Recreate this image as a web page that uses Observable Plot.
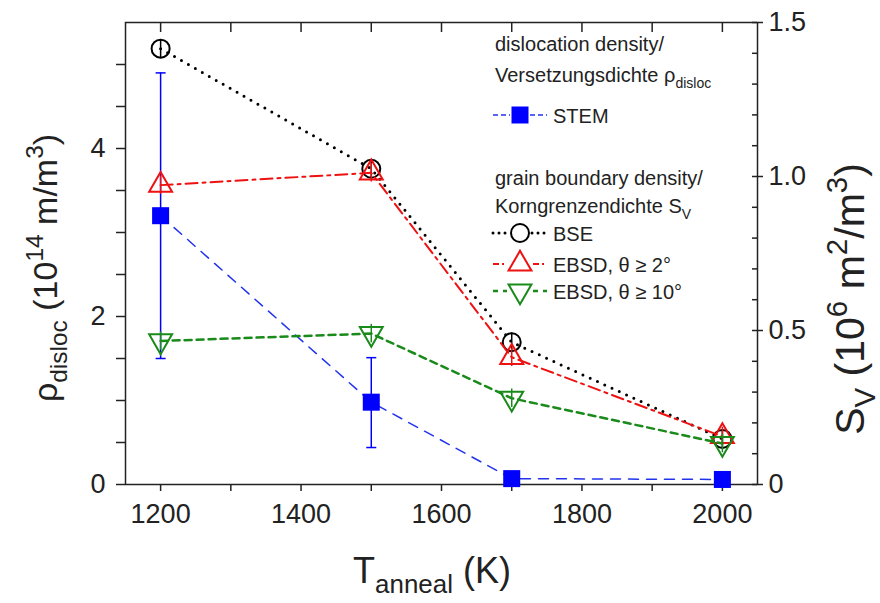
<!DOCTYPE html>
<html><head><meta charset="utf-8">
<script src="https://cdn.jsdelivr.net/npm/d3@7"></script>
<script src="https://cdn.jsdelivr.net/npm/@observablehq/plot@0.6"></script>
<style>
body{margin:0;background:#fff;}
#chart{width:880px;height:603px;}
</style>
</head><body><div id="chart"></div>
<script>
// ---- data ----
const temps = [1200, 1500, 1700, 2000];
const stemRho = [3.2, 0.98, 0.07, 0.06];
const stemLo = [1.5, 0.44, 0.07, 0.06];
const stemHi = [4.9, 1.51, 0.07, 0.06];
const bseSv = [1.415, 1.025, 0.462, 0.148];
const ebsd2Sv = [0.972, 1.012, 0.413, 0.156];
const ebsd10Sv = [0.466, 0.49, 0.28, 0.133];
const svErr = [0.03, 0.03, 0.03, 0.03];
const xMajorTicks = [1200, 1400, 1600, 1800, 2000];
const xAllTicks = [1200, 1300, 1400, 1500, 1600, 1700, 1800, 1900, 2000];
const rhoTicks = [0, 0.5, 1, 1.5, 2, 2.5, 3, 3.5, 4, 4.5, 5];
const rhoLabeled = [0, 2, 4];
const svMajor = [0, 0.5, 1.0, 1.5];
const svMinor = [0.1, 0.2, 0.3, 0.4, 0.6, 0.7, 0.8, 0.9, 1.1, 1.2, 1.3, 1.4];

const rhoMax = 5.5, svMax = 1.5;
const toRho = s => s * rhoMax / svMax;

const stem = temps.map((t, i) => ({t, v: stemRho[i], lo: stemLo[i], hi: stemHi[i]}));
const mk = arr => temps.map((t, i) => ({t, v: toRho(arr[i]), lo: toRho(arr[i] - svErr[i]), hi: toRho(arr[i] + svErr[i])}));
const bse = mk(bseSv), e2 = mk(ebsd2Sv), e10 = mk(ebsd10Sv);

const BLUE = "#0000ff", RED = "#ee1111", GREEN = "#1a8a1a", INK = "#222";
const downTri = {draw(ctx, size) {
  const y = -Math.sqrt(size / (3 * Math.sqrt(3)));
  ctx.moveTo(0, -y * 2); ctx.lineTo(-Math.sqrt(3) * y, y); ctx.lineTo(Math.sqrt(3) * y, y); ctx.closePath();
}};
const cap = {draw(ctx, size) { const w = Math.sqrt(size / Math.PI); ctx.moveTo(-w, 0); ctx.lineTo(w, 0); }};

const W = 880, H = 603, mL = 125, mR = 123, mT = 22, mB = 119;
const innerW = W - mL - mR, innerH = H - mT - mB;

const svg = Plot.plot({
  width: W, height: H,
  marginLeft: mL, marginRight: mR, marginTop: mT, marginBottom: mB,
  style: {fontFamily: "'Liberation Sans', Arial, sans-serif", color: INK, background: "#fff"},
  x: {domain: [1150, 2050]},
  y: {domain: [0, rhoMax]},
  marks: [
    // axes
    Plot.axisX(xAllTicks, {anchor: "bottom", tickSize: 7, tickPadding: 12, fontSize: 27, label: null,
      tickFormat: d => xMajorTicks.includes(d) ? String(d) : "", stroke: INK, strokeWidth: 1.5}),
    Plot.tickX(xAllTicks, {x: d => d, insetBottom: innerH - 10, stroke: INK, strokeWidth: 1.5}),
    Plot.axisY(rhoTicks, {anchor: "left", tickSize: 9, tickPadding: 11, fontSize: 27, label: null,
      tickFormat: d => rhoLabeled.includes(d) ? String(d) : "", stroke: INK, strokeWidth: 1.5}),
    Plot.axisY(svMajor.map(toRho), {anchor: "right", tickSize: 5, tickPadding: 6, fontSize: 27, label: null,
      tickFormat: d => { const s = Math.round(d * svMax / rhoMax * 10) / 10; return s === 0 ? "0" : s.toFixed(1); },
      stroke: INK, strokeWidth: 1.5}),
    Plot.tickY(svMajor.concat(svMinor), {y: s => toRho(s), insetLeft: innerW - 5, stroke: INK, strokeWidth: 1.5}),
    Plot.frame({stroke: INK, strokeWidth: 1.5}),
    // STEM
    Plot.line(stem, {x: "t", y: "v", stroke: "#2233ee", strokeWidth: 1.5, strokeDasharray: "10,8"}),
    Plot.ruleX(stem, {x: "t", y1: "lo", y2: "hi", stroke: BLUE, strokeWidth: 1.5}),
    Plot.dot(stem, {x: "t", y: "lo", symbol: cap, r: 5, stroke: BLUE, strokeWidth: 1.5}),
    Plot.dot(stem, {x: "t", y: "hi", symbol: cap, r: 5, stroke: BLUE, strokeWidth: 1.5}),
    Plot.dot(stem, {x: "t", y: "v", symbol: "square", r: 9.6, fill: BLUE, stroke: BLUE, strokeWidth: 0}),
    // BSE
    Plot.line(bse, {x: "t", y: "v", stroke: "#000", strokeWidth: 3, strokeDasharray: "0,8", strokeLinecap: "round"}),
    Plot.ruleX(bse, {x: "t", y1: "lo", y2: "hi", stroke: "#000", strokeWidth: 1.5}),
    Plot.dot(bse, {x: "t", y: "v", symbol: "circle", r: 9, fill: "none", stroke: "#000", strokeWidth: 2}),
    // EBSD >= 2
    Plot.line(e2, {x: "t", y: "v", stroke: RED, strokeWidth: 2, strokeDasharray: "12,5,3,5"}),
    Plot.ruleX(e2, {x: "t", y1: "lo", y2: "hi", stroke: RED, strokeWidth: 1.5}),
    Plot.dot(e2, {x: "t", y: "v", symbol: "triangle", r: 8.5, fill: "none", stroke: RED, strokeWidth: 2}),
    // EBSD >= 10
    Plot.line(e10, {x: "t", y: "v", stroke: GREEN, strokeWidth: 2.5, strokeDasharray: "7,5"}),
    Plot.ruleX(e10, {x: "t", y1: "lo", y2: "hi", stroke: GREEN, strokeWidth: 1.5}),
    Plot.dot(e10, {x: "t", y: "v", symbol: downTri, r: 8.5, fill: "none", stroke: GREEN, strokeWidth: 2})
  ]
});
document.getElementById("chart").appendChild(svg);

// ---- titles & legend ----
const s = d3.select(svg);
const FF = "'Liberation Sans', Arial, sans-serif";

function rich(g, parts, size, anchor) {
  const t = g.append("text").attr("font-family", FF).attr("font-size", size).attr("fill", INK).attr("text-anchor", anchor);
  let shift = 0;
  for (const p of parts) {
    const target = p.sub ? size * 0.28 : p.sup ? -size * 0.42 : 0;
    const ts = t.append("tspan").text(p.t).attr("dy", target - shift);
    if (p.sub || p.sup) ts.attr("font-size", size * (p.scale || 0.72));
    shift = target;
  }
  return t;
}

// x title
rich(s.append("g").attr("transform", "translate(432,583)"),
  [{t: "T"}, {t: "anneal", sub: true}, {t: " (K)"}], 36, "middle");
// left title
rich(s.append("g").attr("transform", "translate(57,268) rotate(-90)"),
  [{t: "ρ"}, {t: "disloc", sub: true}, {t: " (10"}, {t: "14", sup: true}, {t: " m/m"}, {t: "3", sup: true}, {t: ")"}], 34, "middle");
// right title
rich(s.append("g").attr("transform", "translate(864,299) rotate(-90)"),
  [{t: "S"}, {t: "V", sub: true}, {t: " (10"}, {t: "6", sup: true}, {t: " m"}, {t: "2", sup: true}, {t: "/m"}, {t: "3", sup: true}, {t: ")"}], 41, "middle");

// legend
const L = s.append("g");
const lx = 495, sx0 = 493, sx1 = 547, scx = 520, tx = 553;
rich(L.append("g").attr("transform", `translate(${lx},51)`), [{t: "dislocation density/"}], 20, "start");
rich(L.append("g").attr("transform", `translate(${lx},82)`), [{t: "Versetzungsdichte ρ"}, {t: "disloc", sub: true, scale: 0.7}], 20, "start");
rich(L.append("g").attr("transform", `translate(${lx},185)`), [{t: "grain boundary density/"}], 20, "start");
rich(L.append("g").attr("transform", `translate(${lx},213)`), [{t: "Korngrenzendichte S"}, {t: "V", sub: true, scale: 0.7}], 20, "start");

const entries = [
  {y: 115, label: "STEM", stroke: "#2233ee", dash: "5,3", w: 1.5, sym: d3.symbolSquare, size: 289, fill: BLUE, mstroke: "none", gap: 10},
  {y: 233, label: "BSE", stroke: "#000", dash: "0,6", w: 3, cap: "round", sym: d3.symbolCircle, size: Math.PI * 81, fill: "none", mstroke: "#000", gap: 12},
  {y: 264, label: "EBSD, θ ≥ 2°", stroke: RED, dash: "6,3,2,3", w: 2, sym: d3.symbolTriangle, size: Math.PI * 72, fill: "none", mstroke: RED, gap: 13},
  {y: 291, label: "EBSD, θ ≥ 10°", stroke: GREEN, dash: "5,5", w: 2.5, sym: downTri, size: Math.PI * 72, fill: "none", mstroke: GREEN, gap: 13}
];
for (const e of entries) {
  for (const [a, b] of [[sx0, scx - e.gap], [scx + e.gap, sx1]]) {
    L.append("line").attr("x1", a).attr("x2", b).attr("y1", e.y).attr("y2", e.y)
      .attr("stroke", e.stroke).attr("stroke-width", e.w).attr("stroke-dasharray", e.dash)
      .attr("stroke-linecap", e.cap || "butt");
  }
  L.append("path").attr("d", d3.symbol(e.sym, e.size)()).attr("transform", `translate(${scx},${e.y})`)
    .attr("fill", e.fill).attr("stroke", e.mstroke).attr("stroke-width", 2);
  L.append("text").attr("x", tx).attr("y", e.y + 8).attr("text-anchor", "start")
    .attr("font-family", FF).attr("font-size", 20).attr("fill", INK).text(e.label);
}
</script>
</body></html>
